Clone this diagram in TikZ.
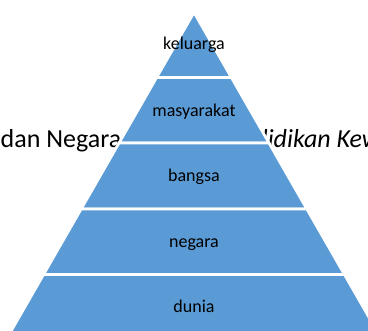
\documentclass[tikz,border=0pt]{standalone}
\usepackage{fontspec}
\setmainfont{Carlito}
\definecolor{pyr}{HTML}{5B9BD5}
\begin{document}
\begin{tikzpicture}[x=1pt,y=-1pt,
  layer/.style={fill=pyr,draw=white,line width=2.7pt,line join=miter},
  lab/.style={font=\fontsize{18}{20}\selectfont,anchor=base,inner sep=0pt},
  bg/.style={font=\fontsize{26}{28}\selectfont,inner sep=0pt}]
\useasboundingbox (0,0) rectangle (368,331);
\clip (0,0) rectangle (368,331);
% background title text, partly hidden
\node[bg,anchor=base west] (t1) at (0.5,148) {dan Negara};
\node[bg,anchor=base east] (t2) at (331,148) {\itshape Pendidikan};
\node[bg,anchor=base west] (t3) at (336.5,148) {\itshape Kewarganegaraan};
% pyramid layers
\path[layer] (194,12.4) -- (231.37,77.5) -- (156.63,77.5) -- cycle;
\path[layer] (156.63,77.5) -- (231.37,77.5) -- (268.96,143) -- (119.04,143) -- cycle;
\path[layer] (119.04,143) -- (268.96,143) -- (306.85,209) -- (81.15,209) -- cycle;
\path[layer] (81.15,209) -- (306.85,209) -- (344.45,274.5) -- (43.55,274.5) -- cycle;
\path[layer] (43.55,274.5) -- (344.45,274.5) -- (384.9,345) -- (3.1,345) -- cycle;
% labels
\node[lab] (l1) at (194,50) {keluarga};
\node[lab] (l2) at (194,117) {masyarakat};
\node[lab] (l3) at (194,182) {bangsa};
\node[lab] (l4) at (194,248) {negara};
\node[lab] (l5) at (194,313) {dunia};
\end{tikzpicture}
\end{document}
